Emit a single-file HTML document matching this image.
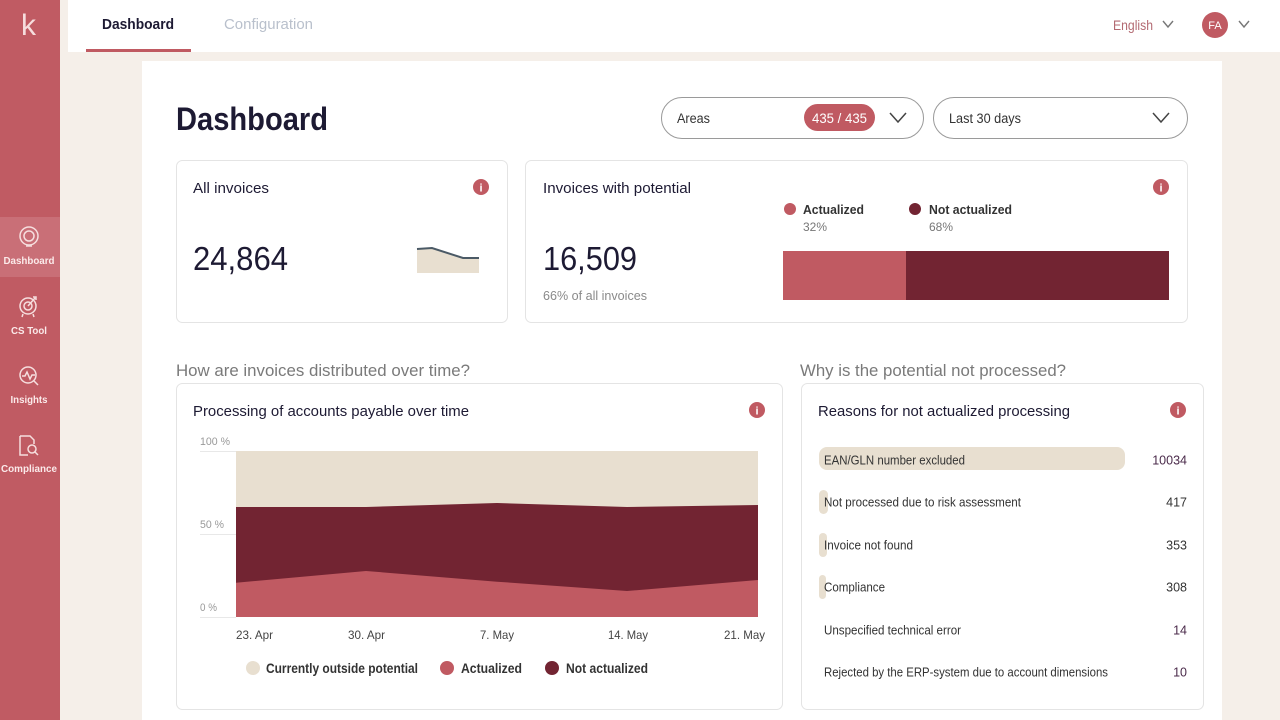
<!DOCTYPE html>
<html><head><meta charset="utf-8"><style>
html,body{margin:0;padding:0;width:1280px;height:720px;overflow:hidden;background:#f5efe9;}
svg{display:block;font-family:"Liberation Sans",sans-serif;}
</style></head><body>
<svg width="1280" height="720" viewBox="0 0 1280 720" xmlns="http://www.w3.org/2000/svg">
<rect x="0" y="0" width="1280" height="720" fill="#f5efe9"/>
<!-- top bar -->
<rect x="68" y="0" width="1212" height="52" fill="#ffffff"/>
<text x="102" y="29" font-size="15" font-weight="bold" fill="#1d1a33" textLength="72" lengthAdjust="spacingAndGlyphs">Dashboard</text>
<rect x="86" y="49" width="105" height="3" fill="#c05a62"/>
<text x="224" y="29" font-size="15" fill="#b9c0cc" textLength="89" lengthAdjust="spacingAndGlyphs">Configuration</text>
<text x="1113" y="30" font-size="14" fill="#b36a72" textLength="40" lengthAdjust="spacingAndGlyphs">English</text>
<polyline points="1163,21 1168,27 1173,21" fill="none" stroke="#777" stroke-width="1.4"/>
<circle cx="1215" cy="25" r="13" fill="#c05a62"/>
<text x="1215" y="29" font-size="11" fill="#fff" text-anchor="middle">FA</text>
<polyline points="1239,21 1244,27 1249,21" fill="none" stroke="#777" stroke-width="1.4"/>

<!-- sidebar -->
<rect x="0" y="0" width="60" height="720" fill="#c05b63"/>
<text x="21" y="35" font-size="30" fill="#f6dede" textLength="15" lengthAdjust="spacingAndGlyphs">k</text>
<rect x="0" y="217" width="60" height="60" fill="#c96f77"/>
<g fill="none" stroke="#f6dede" stroke-width="1.5">
  <circle cx="29" cy="236" r="9"/><circle cx="29" cy="236" r="5"/>
  <path d="M26 246 L32 246"/>
  <circle cx="28" cy="306" r="8"/><circle cx="28" cy="306" r="4"/>
  <path d="M28 306 L35 298 M33 297 L36 297 L36 300 M23 314 L22 317 M33 314 L34 317"/>
  <circle cx="28" cy="375" r="8"/><path d="M22 376 L25 376 L27 372 L30 379 L32 375 L35 375 M34 381 L38 385"/>
  <path d="M20 436 L30 436 L34 440 L34 444 M20 436 L20 455 L28 455"/><circle cx="32" cy="449" r="4"/><path d="M35 452 L38 455"/>
</g>
<g font-size="10" font-weight="bold" fill="#fbeaea" text-anchor="middle">
<text x="29" y="264" textLength="51" lengthAdjust="spacingAndGlyphs">Dashboard</text>
<text x="29" y="334" textLength="36" lengthAdjust="spacingAndGlyphs">CS Tool</text>
<text x="29" y="403" textLength="37" lengthAdjust="spacingAndGlyphs">Insights</text>
<text x="29" y="472" textLength="56" lengthAdjust="spacingAndGlyphs">Compliance</text>
</g>

<!-- main white panel -->
<rect x="142" y="61" width="1080" height="659" fill="#ffffff"/>
<text x="176" y="130" font-size="32" font-weight="bold" fill="#1d1a33" textLength="152" lengthAdjust="spacingAndGlyphs">Dashboard</text>

<!-- dropdowns -->
<rect x="661.5" y="97.5" width="262" height="41" rx="20.5" fill="#fff" stroke="#9a9a9a"/>
<text x="677" y="123" font-size="13.5" fill="#333" textLength="33" lengthAdjust="spacingAndGlyphs">Areas</text>
<rect x="804" y="104" width="71" height="27" rx="13.5" fill="#c05a62"/>
<text x="812" y="123" font-size="13.5" fill="#fff" textLength="55" lengthAdjust="spacingAndGlyphs">435 / 435</text>
<polyline points="890,113 898,122 906,113" fill="none" stroke="#444" stroke-width="1.5"/>
<rect x="933.5" y="97.5" width="254" height="41" rx="20.5" fill="#fff" stroke="#9a9a9a"/>
<text x="949" y="123" font-size="13.5" fill="#333" textLength="72" lengthAdjust="spacingAndGlyphs">Last 30 days</text>
<polyline points="1153,113 1161,122 1169,113" fill="none" stroke="#444" stroke-width="1.5"/>

<!-- card: all invoices -->
<rect x="176.5" y="160.5" width="331" height="162" rx="6" fill="#fff" stroke="#e4e4e4"/>
<text x="193" y="193" font-size="15" fill="#1d1a33" textLength="76" lengthAdjust="spacingAndGlyphs">All invoices</text>
<circle cx="481" cy="187" r="8" fill="#c05a62"/>
<text x="481" y="191.5" font-size="11" font-weight="bold" fill="#fff" text-anchor="middle">i</text>
<text x="193" y="270" font-size="33" fill="#1d1a33" textLength="95" lengthAdjust="spacingAndGlyphs">24,864</text>
<polygon points="417,249 432,248 463,258 479,258 479,273 417,273" fill="#e8dfd0"/>
<polyline points="417,249 432,248 463,258 479,258" fill="none" stroke="#4b5a66" stroke-width="2"/>

<!-- card: invoices with potential -->
<rect x="525.5" y="160.5" width="662" height="162" rx="6" fill="#fff" stroke="#e4e4e4"/>
<text x="543" y="193" font-size="15" fill="#1d1a33" textLength="148" lengthAdjust="spacingAndGlyphs">Invoices with potential</text>
<circle cx="1161" cy="187" r="8" fill="#c05a62"/>
<text x="1161" y="191.5" font-size="11" font-weight="bold" fill="#fff" text-anchor="middle">i</text>
<text x="543" y="270" font-size="33" fill="#1d1a33" textLength="94" lengthAdjust="spacingAndGlyphs">16,509</text>
<text x="543" y="300" font-size="13" fill="#8a8a8a" textLength="104" lengthAdjust="spacingAndGlyphs">66% of all invoices</text>
<circle cx="790" cy="209" r="6" fill="#c05a62"/>
<text x="803" y="214" font-size="13" font-weight="bold" fill="#333" textLength="61" lengthAdjust="spacingAndGlyphs">Actualized</text>
<text x="803" y="231" font-size="12" fill="#777" textLength="24" lengthAdjust="spacingAndGlyphs">32%</text>
<circle cx="915" cy="209" r="6" fill="#722432"/>
<text x="929" y="214" font-size="13" font-weight="bold" fill="#333" textLength="83" lengthAdjust="spacingAndGlyphs">Not actualized</text>
<text x="929" y="231" font-size="12" fill="#777" textLength="24" lengthAdjust="spacingAndGlyphs">68%</text>
<rect x="783" y="251" width="123" height="49" fill="#c05a62"/>
<rect x="906" y="251" width="263" height="49" fill="#722432"/>

<!-- section headings -->
<text x="176" y="376" font-size="17" fill="#7a7a7a" textLength="294" lengthAdjust="spacingAndGlyphs">How are invoices distributed over time?</text>
<text x="800" y="376" font-size="17" fill="#7a7a7a" textLength="266" lengthAdjust="spacingAndGlyphs">Why is the potential not processed?</text>

<!-- chart card -->
<rect x="176.5" y="383.5" width="606" height="326" rx="6" fill="#fff" stroke="#e4e4e4"/>
<text x="193" y="416" font-size="15" fill="#1d1a33" textLength="276" lengthAdjust="spacingAndGlyphs">Processing of accounts payable over time</text>
<circle cx="757" cy="410" r="8" fill="#c05a62"/>
<text x="757" y="414.5" font-size="11" font-weight="bold" fill="#fff" text-anchor="middle">i</text>
<g stroke="#e8e8e8" stroke-width="1">
<line x1="200" y1="451.5" x2="236" y2="451.5"/>
<line x1="200" y1="534.5" x2="236" y2="534.5"/>
<line x1="200" y1="617.5" x2="236" y2="617.5"/>
</g>
<g font-size="11" fill="#999">
<text x="200" y="445" textLength="30" lengthAdjust="spacingAndGlyphs">100 %</text>
<text x="200" y="528" textLength="24" lengthAdjust="spacingAndGlyphs">50 %</text>
<text x="200" y="611" textLength="17" lengthAdjust="spacingAndGlyphs">0 %</text>
</g>
<rect x="236" y="451" width="522" height="166" fill="#e8dfd0"/>
<polygon points="236,507 366,507 497,503 627,507 758,505 758,617 236,617" fill="#722432"/>
<polygon points="236,582.7 366,571 497,581.7 627,591 758,580 758,617 236,617" fill="#c05a62"/>
<g font-size="12" fill="#444">
<text x="236" y="639" textLength="37" lengthAdjust="spacingAndGlyphs">23. Apr</text>
<text x="348" y="639" textLength="37" lengthAdjust="spacingAndGlyphs">30. Apr</text>
<text x="480" y="639" textLength="34" lengthAdjust="spacingAndGlyphs">7. May</text>
<text x="608" y="639" textLength="40" lengthAdjust="spacingAndGlyphs">14. May</text>
<text x="724" y="639" textLength="41" lengthAdjust="spacingAndGlyphs">21. May</text>
</g>
<circle cx="253" cy="668" r="7" fill="#e8dfd0"/>
<circle cx="447" cy="668" r="7" fill="#c05a62"/>
<circle cx="552" cy="668" r="7" fill="#722432"/>
<g font-size="14" font-weight="bold" fill="#333">
<text x="266" y="673" textLength="152" lengthAdjust="spacingAndGlyphs">Currently outside potential</text>
<text x="461" y="673" textLength="61" lengthAdjust="spacingAndGlyphs">Actualized</text>
<text x="566" y="673" textLength="82" lengthAdjust="spacingAndGlyphs">Not actualized</text>
</g>

<!-- reasons card -->
<rect x="801.5" y="383.5" width="402" height="326" rx="6" fill="#fff" stroke="#e4e4e4"/>
<text x="818" y="416" font-size="15" fill="#1d1a33" textLength="252" lengthAdjust="spacingAndGlyphs">Reasons for not actualized processing</text>
<circle cx="1178" cy="410" r="8" fill="#c05a62"/>
<text x="1178" y="414.5" font-size="11" font-weight="bold" fill="#fff" text-anchor="middle">i</text>
<rect x="819" y="447" width="306" height="23" rx="8" fill="#e8dfd0"/>
<rect x="819" y="490" width="9" height="24" rx="4.5" fill="#e8dfd0"/>
<rect x="819" y="533" width="8" height="24" rx="4" fill="#e8dfd0"/>
<rect x="819" y="575" width="7" height="24" rx="3.5" fill="#e8dfd0"/>
<g font-size="12.5" fill="#333">
<text x="824" y="464.5" textLength="141" lengthAdjust="spacingAndGlyphs">EAN/GLN number excluded</text>
<text x="824" y="506.5" textLength="197" lengthAdjust="spacingAndGlyphs">Not processed due to risk assessment</text>
<text x="824" y="549.5" textLength="89" lengthAdjust="spacingAndGlyphs">Invoice not found</text>
<text x="824" y="591.5" textLength="61" lengthAdjust="spacingAndGlyphs">Compliance</text>
<text x="824" y="634.5" textLength="137" lengthAdjust="spacingAndGlyphs">Unspecified technical error</text>
<text x="824" y="676.5" textLength="284" lengthAdjust="spacingAndGlyphs">Rejected by the ERP-system due to account dimensions</text>
</g>
<g font-size="12.5" fill="#333" text-anchor="end">
<text x="1187" y="464.5" fill="#4a2a4a">10034</text>
<text x="1187" y="506.5">417</text>
<text x="1187" y="549.5">353</text>
<text x="1187" y="591.5">308</text>
<text x="1187" y="634.5" fill="#4a2a4a">14</text>
<text x="1187" y="676.5" fill="#4a2a4a">10</text>
</g>
</svg>
</body></html>
